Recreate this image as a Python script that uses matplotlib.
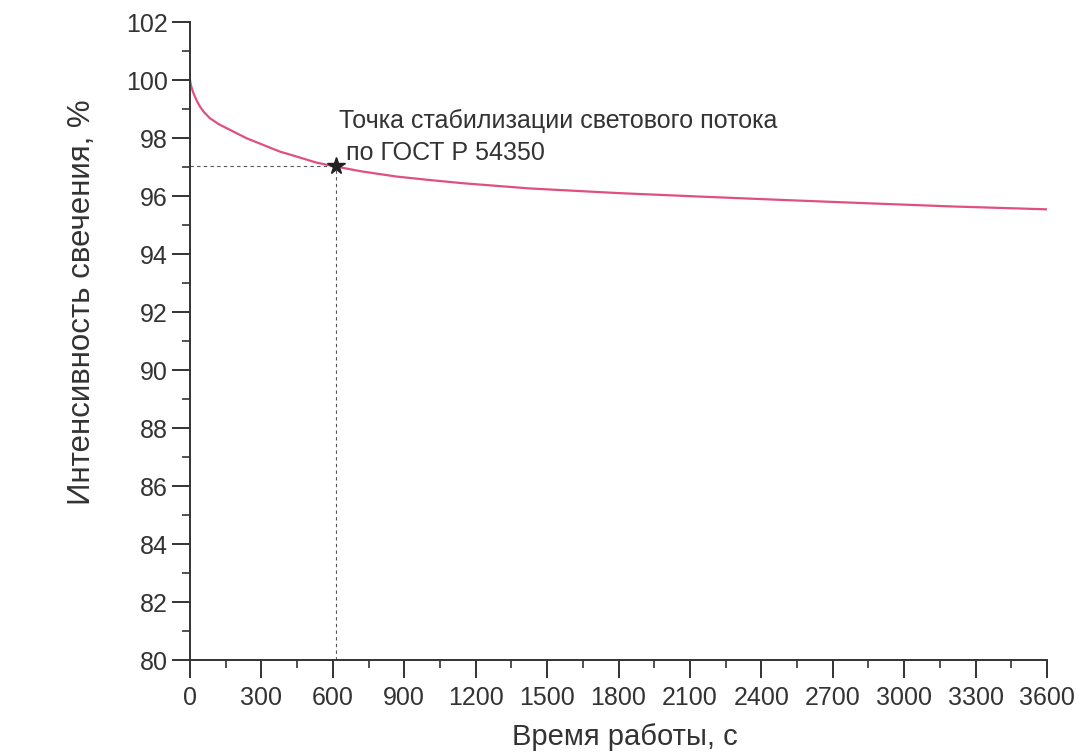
import matplotlib
matplotlib.use("Agg")
import matplotlib.pyplot as plt
from matplotlib.ticker import MultipleLocator

# Data
time_s = [0, 3, 8, 14, 21, 30, 42, 60, 84, 120, 168, 238, 308, 378, 448, 532,
          609, 727, 868, 1008, 1147, 1428, 1800, 2142, 2500, 2844, 3200, 3600]
intensity = [100.0, 99.85, 99.7, 99.56, 99.42, 99.26, 99.08, 98.88, 98.68, 98.48,
             98.28, 97.99, 97.76, 97.53, 97.36, 97.15, 97.02, 96.84, 96.67, 96.55,
             96.44, 96.26, 96.1, 95.98, 95.86, 95.75, 95.64, 95.54]
stab_time = 612
stab_value = 97.02
x_ticks = [0, 300, 600, 900, 1200, 1500, 1800, 2100, 2400, 2700, 3000, 3300, 3600]
y_ticks = [80, 82, 84, 86, 88, 90, 92, 94, 96, 98, 100, 102]
note_line1 = 'Точка стабилизации светового потока'
note_line2 = 'по ГОСТ Р 54350'

plt.rcParams['font.family'] = ['Liberation Sans', 'DejaVu Sans']

W, H = 1079, 756
fig = plt.figure(figsize=(W / 100, H / 100), dpi=100)
ax = fig.add_axes([190 / W, 1 - 660 / H, 857 / W, 638 / H])

ax.plot(time_s, intensity, color='#e0507e', lw=1.6)
ax.plot([0, stab_time], [stab_value, stab_value], ls=(0, (3, 3)), color='#555555', lw=0.8)
ax.plot([stab_time, stab_time], [80, stab_value], ls=(0, (3, 3)), color='#555555', lw=0.8)
ax.plot([stab_time], [stab_value], marker='*', color='#222222', ms=13, zorder=5)

ax.text(628, 98.34, note_line1, fontsize=18, color='#333333', ha='left', va='baseline')
ax.text(657, 97.24, note_line2, fontsize=18, color='#333333', ha='left', va='baseline')

ax.set_xlim(0, 3600)
ax.set_ylim(80, 102)
ax.set_xticks(x_ticks)
ax.set_yticks(y_ticks)
ax.xaxis.set_minor_locator(MultipleLocator(150))
ax.yaxis.set_minor_locator(MultipleLocator(1))

for s in ['top', 'right']:
    ax.spines[s].set_visible(False)
for s in ['left', 'bottom']:
    ax.spines[s].set_linewidth(1.4)
    ax.spines[s].set_color('#333333')

ax.tick_params(which='major', length=13, width=1.4, color='#333333',
               labelsize=18, labelcolor='#333333', pad=6)
ax.tick_params(axis='y', which='major', pad=3)
ax.tick_params(which='minor', length=6, width=1.2, color='#333333')

fig.text(625 / W, 1 - 745 / H, 'Время работы, с', fontsize=21, color='#333333',
         ha='center', va='baseline')
fig.text(82 / W, 1 - 302 / H, 'Интенсивность свечения, %', fontsize=22.5,
         color='#333333', ha='center', va='center', rotation=90)

fig.savefig('out.png', dpi=100)
